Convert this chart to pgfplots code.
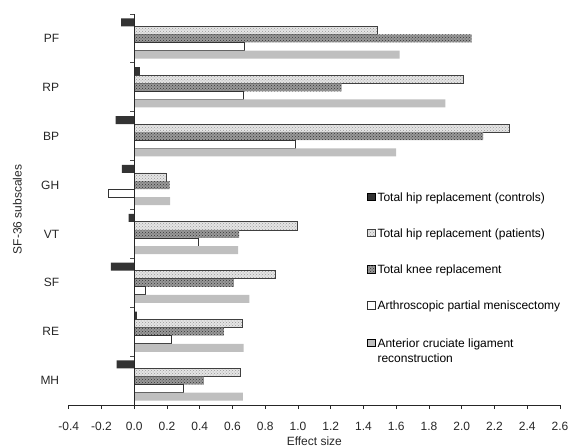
\documentclass[border=0pt]{standalone}
\usepackage{pgfplots}
\pgfplotsset{compat=1.18}
\usepackage{fontspec}
\setmainfont{Liberation Sans}
\setsansfont{Liberation Sans}
\usetikzlibrary{patterns}
\begin{document}
\begin{tikzpicture}
\path[use as bounding box] (-68.7pt,-42pt) rectangle (501.3pt,405pt);
\begin{axis}[
  at={(0,0)}, anchor=south west,
  scale only axis, width=491.3pt, height=391pt,
  xbar, bar width=0.165,
  xmin=-0.4, xmax=2.6,
  ymin=-0.5, ymax=7.5, y dir=reverse,
  axis x line=bottom, axis y line=left,
  x axis line style={-, black!85, line width=0.8pt},
  y axis line style={draw=none},
  xtick={-0.4,-0.2,0,0.2,0.4,0.6,0.8,1.0,1.2,1.4,1.6,1.8,2.0,2.2,2.4,2.6},
  xticklabels={-0.4,-0.2,0.0,0.2,0.4,0.6,0.8,1.0,1.2,1.4,1.6,1.8,2.0,2.2,2.4,2.6},
  tick align=outside,
  xtick style={black!85, line width=0.8pt},
  major tick length=4pt,
  ytick={0,1,2,3,4,5,6,7},
  yticklabels={PF,RP,BP,GH,VT,SF,RE,MH},
  ytick style={draw=none},
  ticklabel style={font=\fontsize{12}{14}\selectfont, text=black!85},
  yticklabel style={xshift=-2pt},
  xticklabel style={yshift=-10pt},
  xlabel={Effect size},
  ylabel={SF-36 subscales},
  label style={font=\fontsize{12}{14}\selectfont, text=black!85},
  xlabel style={yshift=1.5pt},
  ylabel style={yshift=12pt},
  clip=false,
  legend style={at={(0.607,0.548)}, anchor=north west, draw=none, fill=none,
    font=\fontsize{12}{14}\selectfont, row sep=23pt, inner sep=0pt,
    cells={anchor=base west}, nodes={inner sep=1.5pt}},
  legend image code/.code={\draw[#1] (0pt,0.5pt) rectangle (8pt,8pt);},
]
\addplot[bar shift=-0.33, fill=black!80, draw=none]
  coordinates {(-0.08,0) (0.035,1) (-0.113,2) (-0.076,3) (-0.034,4) (-0.142,5) (0.017,6) (-0.107,7)};
\addlegendentry{Total hip replacement (controls)}
\addplot[bar shift=-0.165, fill=black!10, draw=black!75, line width=0.8pt,
  postaction={pattern=crosshatch dots, pattern color=black!40}]
  coordinates {(1.484,0) (2.01,1) (2.288,2) (0.194,3) (0.998,4) (0.862,5) (0.662,6) (0.65,7)};
\addlegendentry{Total hip replacement (patients)}
\addplot[bar shift=0, fill=black!40, draw=none,
  postaction={pattern=crosshatch dots, pattern color=black!80}]
  coordinates {(2.06,0) (1.267,1) (2.13,2) (0.216,3) (0.64,4) (0.608,5) (0.548,6) (0.426,7)};
\addlegendentry{Total knee replacement}
\addplot[bar shift=0.165, fill=white, draw=black!80, line width=0.9pt]
  coordinates {(0.672,0) (0.67,1) (0.984,2) (-0.156,3) (0.39,4) (0.07,5) (0.229,6) (0.302,7)};
\addlegendentry{Arthroscopic partial meniscectomy}
\addplot[bar shift=0.33, fill=black!25, draw=none]
  coordinates {(1.62,0) (1.90,1) (1.60,2) (0.22,3) (0.634,4) (0.703,5) (0.668,6) (0.664,7)};
\addlegendentry{\begin{tabular}[t]{@{}l@{}}Anterior cruciate ligament\\[1pt]reconstruction\end{tabular}}
\draw[black!85, line width=0.8pt] (axis cs:0,-0.5) -- (axis cs:0,7.5);
\pgfplotsinvokeforeach{-0.5,0.5,1.5,2.5,3.5,4.5,5.5,6.5}{
  \draw[black!70, line width=0.8pt] (axis cs:0,#1) -- ([xshift=-4pt]axis cs:0,#1);
}
\end{axis}
\end{tikzpicture}
\end{document}
